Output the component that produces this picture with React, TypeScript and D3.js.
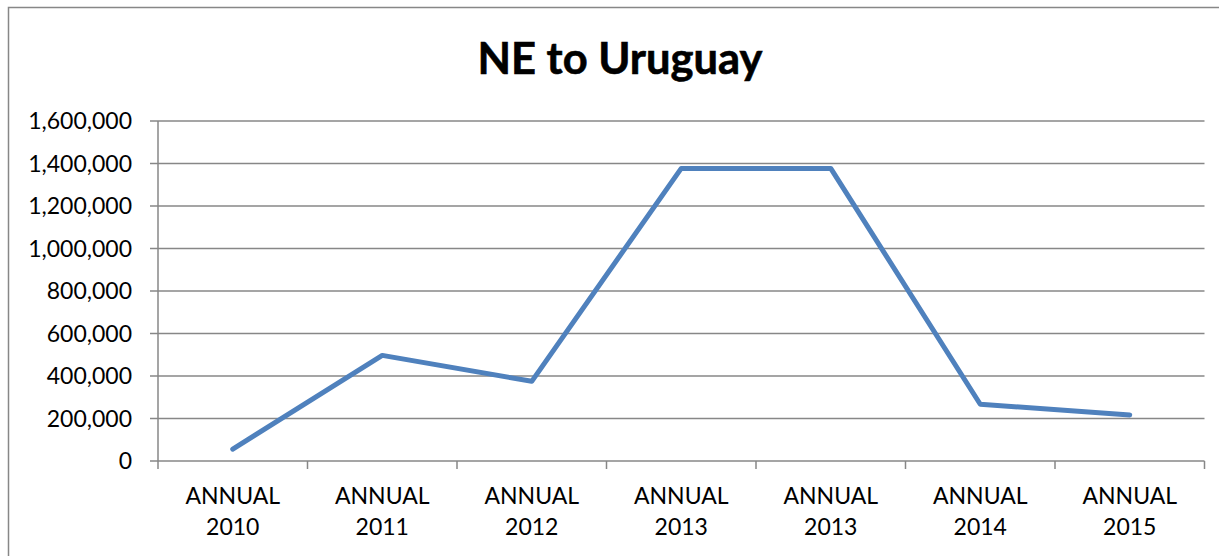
import React, { useEffect, useRef } from 'react';
import * as d3 from 'd3';

const title = 'NE to Uruguay';
const categories = ['ANNUAL 2010', 'ANNUAL 2011', 'ANNUAL 2012', 'ANNUAL 2013', 'ANNUAL 2013', 'ANNUAL 2014', 'ANNUAL 2015'];
const values = [56000, 497000, 375000, 1377000, 1377000, 267000, 217000];
const yTicks = [0, 200000, 400000, 600000, 800000, 1000000, 1200000, 1400000, 1600000];

const W = 1219;
const H = 556;

const App: React.FC = () => {
  const svgRef = useRef<SVGSVGElement>(null);

  useEffect(() => {
    if (!svgRef.current) return;
    const svg = d3.select(svgRef.current);
    svg.selectAll('*').remove();

    const font = 'Lato, "Open Sans", sans-serif';
    const left = 158;
    const right = 1204.5;
    const top = 121;
    const bottom = 461;
    const grey = '#878787';

    // chart frame
    svg.append('rect')
      .attr('x', 8.5).attr('y', 7.5)
      .attr('width', W + 20).attr('height', H + 20)
      .attr('fill', '#fff')
      .attr('stroke', grey).attr('stroke-width', 1.5);

    const x = d3.scaleBand<number>()
      .domain(categories.map((_, i) => i))
      .range([left, right])
      .padding(0);
    const y = d3.scaleLinear().domain([0, 1600000]).range([bottom, top]);

    // title
    svg.append('text')
      .attr('x', 620).attr('y', 74)
      .attr('text-anchor', 'middle')
      .attr('font-family', font)
      .attr('font-weight', 700)
      .attr('font-size', 43)
      .attr('textLength', 285)
      .attr('lengthAdjust', 'spacingAndGlyphs')
      .attr('stroke', '#000')
      .attr('stroke-width', 0.6)
      .attr('fill', '#000')
      .text(title);

    // gridlines + y ticks
    const fmt = d3.format(',');
    const gy = svg.append('g');
    yTicks.forEach(t => {
      gy.append('line')
        .attr('x1', left - 8).attr('x2', right)
        .attr('y1', y(t)).attr('y2', y(t))
        .attr('stroke', grey).attr('stroke-width', 1.5);
      gy.append('text')
        .attr('x', 132).attr('y', y(t) + 8)
        .attr('text-anchor', 'end')
        .attr('font-family', font)
        .attr('font-size', 23)
        .attr('fill', '#000')
        .text(fmt(t));
    });

    // y axis line
    svg.append('line')
      .attr('x1', left).attr('x2', left)
      .attr('y1', top).attr('y2', bottom + 8)
      .attr('stroke', grey).attr('stroke-width', 1.5);

    // x tick marks
    const gx = svg.append('g');
    categories.forEach((_, i) => {
      const bx = (x(i) as number) + x.bandwidth();
      gx.append('line')
        .attr('x1', bx).attr('x2', bx)
        .attr('y1', bottom).attr('y2', bottom + 8)
        .attr('stroke', grey).attr('stroke-width', 1.5);
    });

    // x labels (two lines)
    categories.forEach((c, i) => {
      const cx = (x(i) as number) + x.bandwidth() / 2;
      const parts = c.split(' ');
      const t = gx.append('text')
        .attr('text-anchor', 'middle')
        .attr('font-family', font)
        .attr('font-size', 23)
        .attr('fill', '#000');
      t.append('tspan').attr('x', cx).attr('y', 504).text(parts[0]);
      t.append('tspan').attr('x', cx).attr('y', 535).text(parts[1]);
    });

    // series line
    const line = d3.line<number>()
      .x((_, i) => (x(i) as number) + x.bandwidth() / 2)
      .y(d => y(d));
    svg.append('path')
      .datum(values)
      .attr('d', line)
      .attr('fill', 'none')
      .attr('stroke', '#4F81BD')
      .attr('stroke-width', 5)
      .attr('stroke-linejoin', 'round')
      .attr('stroke-linecap', 'round');
  }, []);

  return (
    <svg
      ref={svgRef}
      width={W}
      height={H}
      viewBox={`0 0 ${W} ${H}`}
      style={{ position: 'absolute', left: 0, top: 0, background: '#fff' }}
    />
  );
};

export default App;
